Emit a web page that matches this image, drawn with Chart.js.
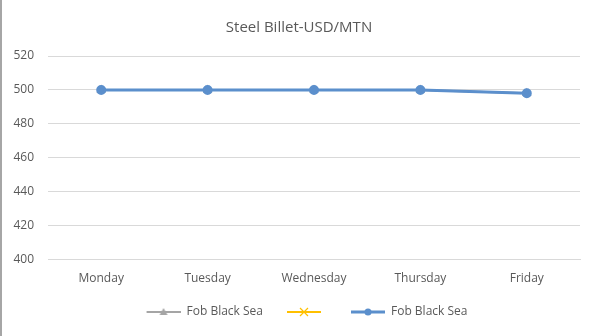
<!DOCTYPE html>
<html>
<head>
<meta charset="utf-8">
<script src="https://cdn.jsdelivr.net/npm/chart.js@4/dist/chart.umd.min.js"></script>
<style>
    html, body { margin: 0; padding: 0; background: #fff; }
    #wrap { width: 590px; height: 336px; border-left: 2px solid #a6a6a6; }
</style>
</head>
<body>
<div id="wrap"><canvas id="chart" width="590" height="336"></canvas></div>
<script>
const days = ["Monday", "Tuesday", "Wednesday", "Thursday", "Friday"];
const grayValues = [500, 500, 500, 500, 498];
const yellowValues = [null, null, null, null, null];
const blueValues = [500, 500, 500, 500, 498];
const seriesLabels = ["Fob Black Sea", "", "Fob Black Sea"];
const yTicks = [400, 420, 440, 460, 480, 500, 520];

// little line+marker images for the legend (line sits at the right, blank room on the left)
function legendIcon(color, marker) {
    const c = document.createElement("canvas");
    c.width = 42;
    c.height = 12;
    const g = c.getContext("2d");
    g.strokeStyle = color;
    g.fillStyle = color;
    g.lineWidth = marker === "circle" ? 3 : 2;
    g.beginPath();
    g.moveTo(8, 6);
    g.lineTo(42, 6);
    g.stroke();
    g.lineWidth = 1.2;
    if (marker === "triangle") {
        g.beginPath();
        g.moveTo(25, 2);
        g.lineTo(29, 9);
        g.lineTo(21, 9);
        g.closePath();
        g.fill();
    } else if (marker === "cross") {
        g.beginPath();
        g.moveTo(21, 2); g.lineTo(29, 10);
        g.moveTo(29, 2); g.lineTo(21, 10);
        g.stroke();
    } else {
        g.beginPath();
        g.arc(25, 6, 3.5, 0, Math.PI * 2);
        g.fill();
    }
    return c;
}

const icons = [
    legendIcon("#a5a5a5", "triangle"),
    legendIcon("#ffc000", "cross"),
    legendIcon("#5b8fcc", "circle"),
];

// title and legend sit a bit right of the canvas centre in the original
const nudgeBlocks = {
    id: "nudgeBlocks",
    afterLayout(chart) {
        if (chart.legend) chart.legend.left += 18;
        if (chart.titleBlock) chart.titleBlock.left += 10;
    },
};

const config = {
    type: "line",
    data: {
        labels: days,
        datasets: [
            {
                label: seriesLabels[0],
                data: grayValues,
                order: 3,
                borderColor: "#a5a5a5",
                backgroundColor: "#a5a5a5",
                borderWidth: 2,
                pointStyle: "triangle",
                pointRadius: 3.5,
            },
            {
                label: seriesLabels[1],
                data: yellowValues,
                order: 2,
                borderColor: "#ffc000",
                backgroundColor: "#ffc000",
                borderWidth: 2,
                pointStyle: "crossRot",
                pointRadius: 3.5,
            },
            {
                label: seriesLabels[2],
                data: blueValues,
                order: 1,
                borderColor: "#5b8fcc",
                backgroundColor: "#5b8fcc",
                borderWidth: 3,
                pointStyle: "circle",
                pointRadius: 3.5,
            },
        ],
    },
    options: {
        responsive: false,
        animation: false,
        layout: { padding: { left: 6, right: 12, top: 14, bottom: 8 } },
        scales: {
            x: {
                offset: true,
                grid: { display: false },
                border: { color: "#d9d9d9" },
                ticks: {
                    color: "#595959",
                    font: { family: "Open Sans", size: 12 },
                    padding: 4,
                },
            },
            y: {
                min: 400,
                max: 520,
                afterBuildTicks: (axis) => {
                    axis.ticks = yTicks.map((v) => ({ value: v }));
                },
                afterFit: (axis) => {
                    axis.width = 40;
                },
                grid: { color: "#d9d9d9", drawTicks: false },
                border: { display: false },
                ticks: {
                    color: "#595959",
                    font: { family: "Open Sans", size: 12 },
                    padding: 14,
                },
            },
        },
        plugins: {
            title: {
                display: true,
                text: "Steel Billet-USD/MTN",
                color: "#595959",
                font: { family: "Open Sans", size: 15, weight: "normal" },
                padding: { top: 5, bottom: 19 },
            },
            legend: {
                position: "bottom",
                labels: {
                    color: "#595959",
                    font: { family: "Open Sans", size: 12 },
                    usePointStyle: true,
                    pointStyleWidth: 42,
                    boxHeight: 12,
                    padding: 16,
                    generateLabels: (chart) =>
                        chart.data.datasets.map((ds, i) => ({
                            text: ds.label,
                            pointStyle: icons[i],
                            fillStyle: ds.borderColor,
                            strokeStyle: ds.borderColor,
                            lineWidth: 0,
                            fontColor: "#595959",
                            hidden: false,
                            datasetIndex: i,
                        })),
                },
            },
            tooltip: { enabled: false },
        },
    },
    plugins: [nudgeBlocks],
};

new Chart(document.getElementById("chart"), config);
</script>
</body>
</html>
